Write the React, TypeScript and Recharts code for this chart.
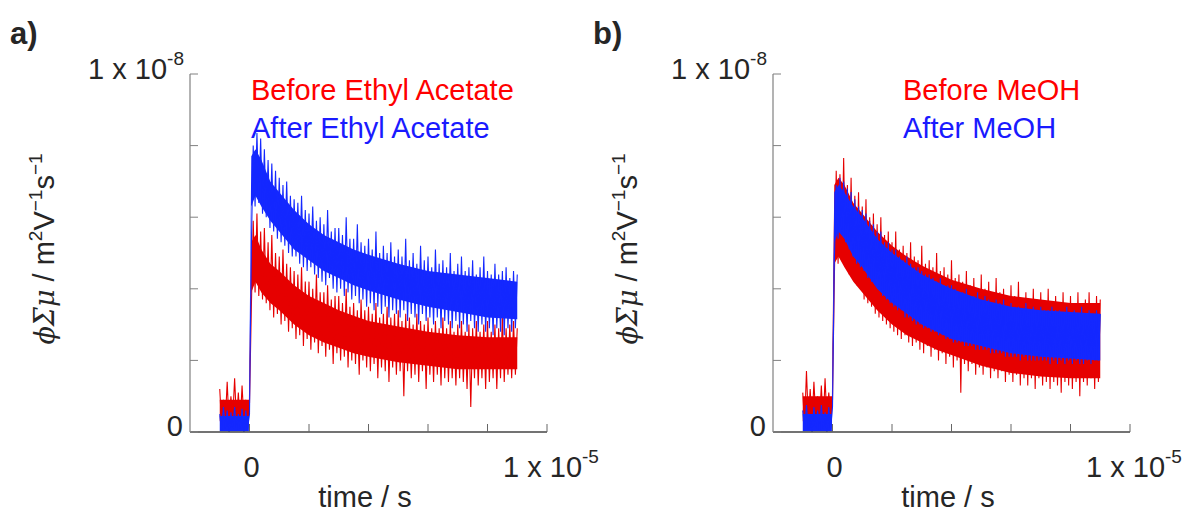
import React from "react";
import { ComposedChart, Area, XAxis, YAxis } from "recharts";

// sampling of the transients, in microseconds
const T0 = -1;
const DT = 0.0625;

const X_TICKS = [0, 2, 4, 6, 8, 10];
const Y_TICKS = [0, 2, 4, 6, 8, 10];

// photoconductance, units of 1e-9 m^2 V^-1 s^-1 (raw noisy traces)
const ethylBefore = [
  1.2, 0.2, 0.9, 0.3, 1.4, 0.2, 1.0, 0.4, 1.5, 0.3, 1.1, 0.2, 1.3, 0.3, 0.9, 0.4,
  0.8, 3.5, 5.9, 3.9, 6.1, 3.8, 5.6, 3.7, 5.7, 3.6,
  5.3, 3.4, 5.5, 3.2, 5.0, 3.3, 4.9, 3.0, 5.1, 3.1,
  4.7, 2.8, 4.6, 2.9, 4.5, 2.6, 4.4, 2.7, 4.6, 2.4,
  4.2, 2.6, 4.2, 2.3, 4.0, 2.5, 4.4, 2.2, 3.9, 2.4,
  3.9, 2.1, 4.1, 2.3, 3.7, 1.9, 3.8, 2.2, 3.8, 2.0,
  3.6, 2.1, 4.0, 1.8, 3.5, 2.0, 3.6, 1.9, 3.4, 1.6,
  3.7, 2.0, 3.4, 1.8, 3.5, 1.7, 3.3, 1.9, 3.6, 1.5,
  3.2, 1.8, 3.3, 1.7, 3.5, 1.4, 3.2, 1.8, 3.3, 1.6,
  3.4, 1.7, 3.1, 1.0, 3.3, 1.7, 3.2, 1.5, 3.0, 1.6,
  3.3, 1.4, 3.1, 1.7, 3.0, 1.2, 3.2, 1.6, 2.9, 1.4,
  3.1, 1.6, 2.9, 1.3, 3.2, 1.5, 2.9, 1.4, 3.1, 1.5,
  2.8, 1.3, 3.0, 1.5, 3.1, 1.4, 2.8, 1.2, 3.0, 0.7,
  2.9, 1.5, 3.1, 1.3, 2.8, 1.5, 3.0, 1.2, 3.1, 1.4,
  2.8, 1.5, 3.0, 1.2, 2.9, 1.5, 3.2, 1.4, 2.9, 1.6,
  3.0, 1.5, 3.1, 1.6, 2.9,
];

const ethylAfter = [
  0.5, 0.05, 0.7, 0.1, 0.6, 0.0, 0.55, 0.1, 0.7, 0.05, 0.5, 0.1, 0.65, 0.0, 0.6, 0.1,
  0.5, 5.2, 8.0, 6.3, 8.35, 6.4, 8.2, 6.1, 7.9, 6.0,
  7.6, 5.7, 7.5, 5.6, 7.3, 5.4, 7.1, 5.3, 6.9, 5.2,
  7.0, 5.0, 6.6, 4.9, 6.5, 4.9, 6.4, 4.7, 6.6, 4.6,
  6.2, 4.5, 6.1, 4.6, 6.3, 4.4, 5.9, 4.3, 6.0, 4.2,
  5.8, 4.1, 6.2, 4.3, 5.6, 4.0, 5.7, 3.9, 5.7, 4.0,
  5.5, 3.8, 6.0, 3.9, 5.4, 3.7, 5.4, 3.8, 5.8, 3.6,
  5.3, 3.7, 5.2, 3.5, 5.4, 3.6, 5.1, 3.4, 5.6, 3.5,
  5.0, 3.3, 5.2, 3.5, 5.0, 3.2, 5.3, 3.4, 4.9, 3.3,
  5.1, 3.2, 4.9, 3.4, 5.4, 3.1, 4.8, 3.3, 5.0, 3.2,
  4.7, 3.0, 5.2, 3.3, 4.8, 3.1, 4.9, 3.2, 4.6, 3.0,
  5.1, 3.2, 4.7, 2.9, 4.8, 3.1, 4.6, 3.0, 5.0, 2.9,
  4.5, 3.1, 4.7, 2.9, 4.9, 3.0, 4.5, 2.8, 4.6, 3.1,
  4.8, 2.9, 4.4, 2.8, 4.6, 3.0, 4.9, 2.8, 4.5, 2.9,
  4.4, 2.7, 4.7, 2.9, 4.4, 2.8, 4.5, 2.7, 4.6, 2.9,
  4.3, 2.8, 4.5, 2.9, 4.4,
];

const meohBefore = [
  1.1, 0.2, 1.7, 0.3, 1.2, 0.2, 1.4, 0.4, 1.0, 0.3, 1.3, 0.2, 1.5, 0.3, 1.1, 0.4,
  0.9, 4.3, 7.3, 4.7, 7.2, 4.8, 7.65, 4.6, 6.9, 4.4,
  7.1, 4.3, 6.6, 4.1, 6.7, 4.0, 6.3, 3.7, 6.5, 3.6,
  6.0, 3.5, 6.1, 3.3, 5.8, 3.2, 6.0, 3.1, 5.5, 3.0,
  5.6, 2.9, 5.3, 2.8, 5.6, 2.7, 5.1, 2.6, 5.2, 2.7,
  5.0, 2.5, 5.3, 2.4, 4.9, 2.5, 4.8, 2.3, 5.2, 2.2,
  4.7, 2.4, 4.8, 2.1, 4.6, 2.3, 5.0, 2.0, 4.5, 2.2,
  4.6, 1.9, 4.4, 2.1, 4.8, 1.8, 4.3, 2.0, 4.4, 1.1,
  4.2, 1.9, 4.5, 1.7, 4.1, 1.9, 4.3, 1.6, 4.0, 1.8,
  4.4, 1.6, 4.0, 1.8, 4.2, 1.5, 3.9, 1.7, 4.3, 1.5,
  3.9, 1.7, 4.0, 1.4, 3.8, 1.6, 4.1, 1.4, 3.8, 1.6,
  4.2, 1.3, 3.7, 1.5, 3.9, 1.3, 3.7, 1.5, 4.0, 1.2,
  3.7, 1.5, 3.9, 1.3, 3.6, 1.4, 4.0, 1.2, 3.6, 1.4,
  3.8, 1.3, 3.6, 1.1, 3.9, 1.4, 3.6, 1.3, 3.8, 1.2,
  3.5, 1.4, 3.9, 1.0, 3.6, 1.4, 3.7, 1.3, 3.9, 1.5,
  3.6, 1.2, 3.8, 1.4, 3.7,
];

const meohAfter = [
  0.6, 0.05, 0.75, 0.1, 0.5, 0.0, 0.7, 0.1, 0.6, 0.05, 0.75, 0.1, 0.55, 0.0, 0.7, 0.1,
  0.7, 4.8, 6.9, 5.4, 7.1, 5.5, 7.0, 5.3, 6.8, 5.1,
  6.7, 4.9, 6.5, 4.7, 6.3, 4.6, 6.2, 4.5, 6.1, 4.3,
  5.9, 4.2, 5.8, 4.1, 5.6, 4.0, 5.6, 3.8, 5.3, 3.7,
  5.3, 3.6, 5.1, 3.5, 5.1, 3.4, 4.9, 3.4, 4.8, 3.2,
  4.9, 3.2, 4.7, 3.1, 4.6, 3.0, 4.6, 3.0, 4.5, 2.9,
  4.4, 2.9, 4.4, 2.8, 4.3, 2.8, 4.2, 2.7, 4.3, 2.7,
  4.1, 2.6, 4.1, 2.6, 4.1, 2.5, 4.0, 2.5, 3.9, 2.5,
  3.9, 2.4, 4.0, 2.4, 3.8, 2.4, 3.8, 2.3, 3.9, 2.3,
  3.7, 2.3, 3.8, 2.3, 3.7, 2.2, 3.6, 2.2, 3.7, 2.2,
  3.6, 2.2, 3.7, 2.1, 3.5, 2.1, 3.6, 2.1, 3.5, 2.1,
  3.5, 2.0, 3.4, 2.1, 3.6, 2.0, 3.4, 2.0, 3.5, 2.0,
  3.4, 2.0, 3.5, 2.0, 3.4, 2.0, 3.4, 1.9, 3.5, 2.0,
  3.4, 1.9, 3.4, 2.0, 3.3, 1.9, 3.5, 2.0, 3.3, 1.9,
  3.4, 2.0, 3.3, 1.9, 3.5, 1.9, 3.3, 2.0, 3.4, 1.9,
  3.3, 2.0, 3.4, 2.0, 3.3,
];

// dense core of each noisy band (where the trace is solid), read at these times (µs)
const CORE_T = [-1, -0.02, 0.06, 0.2, 0.4, 0.7, 1, 1.5, 2, 2.5, 3, 3.5, 4, 5, 6, 7, 8, 9.0];
const ethylBeforeLo = [0.3, 0.3, 3.9, 4.2, 3.9, 3.6, 3.4, 3.0, 2.7, 2.5, 2.35, 2.2, 2.1, 1.95, 1.85, 1.75, 1.75, 1.75];
const ethylBeforeHi = [0.9, 0.9, 5.3, 5.5, 5.1, 4.7, 4.5, 4.1, 3.8, 3.6, 3.4, 3.25, 3.1, 2.95, 2.8, 2.7, 2.65, 2.65];
const ethylAfterLo = [0.02, 0.02, 6.3, 6.6, 6.3, 5.9, 5.6, 5.1, 4.8, 4.5, 4.3, 4.1, 3.95, 3.7, 3.5, 3.35, 3.2, 3.15];
const ethylAfterHi = [0.45, 0.45, 7.7, 7.9, 7.6, 7.0, 6.7, 6.2, 5.8, 5.5, 5.3, 5.1, 4.95, 4.7, 4.5, 4.4, 4.3, 4.2];
const meohBeforeLo = [0.3, 0.3, 4.7, 4.9, 4.6, 4.2, 3.9, 3.4, 3.0, 2.7, 2.5, 2.3, 2.15, 1.85, 1.65, 1.55, 1.5, 1.5];
const meohBeforeHi = [1.0, 1.0, 6.9, 7.1, 6.9, 6.4, 6.1, 5.6, 5.2, 4.9, 4.65, 4.45, 4.25, 4.0, 3.8, 3.7, 3.6, 3.6];
const meohAfterLo = [0.02, 0.02, 5.3, 5.6, 5.4, 4.9, 4.6, 4.0, 3.6, 3.3, 3.0, 2.8, 2.6, 2.4, 2.2, 2.1, 2.05, 2.0];
const meohAfterHi = [0.5, 0.5, 6.7, 6.9, 6.7, 6.3, 6.0, 5.4, 5.0, 4.7, 4.4, 4.2, 4.0, 3.7, 3.5, 3.4, 3.35, 3.3];

const FONT = "'Liberation Sans', Arial, Helvetica, sans-serif";
const INK = "#262626";
const RED = "#e60000";
const BLUE = "#1428ff";

function buildRows(before: number[], after: number[]) {
  return before.map((v, i) => ({ t: T0 + i * DT, before: v, after: after[i] }));
}

function buildCore(lo: number[], hi: number[]) {
  return CORE_T.map((t, i) => ({ t, band: [lo[i], hi[i]] }));
}

function XTick({ x, y, payload }: any) {
  return (
    <g>
      <line x1={x} x2={x} y1={y} y2={y - 8} stroke="#666" strokeWidth={1} />
      {payload.value === 0 && (
        <text x={x + 2} y={y + 45} textAnchor="middle" fontSize={29} fontFamily={FONT} fill={INK}>
          0
        </text>
      )}
      {payload.value === 10 && (
        <text x={x + 4} y={y + 45} textAnchor="middle" fontSize={29} fontFamily={FONT} fill={INK}>
          1 x 10<tspan dy={-14} fontSize={19}>-5</tspan>
        </text>
      )}
    </g>
  );
}

function YTick({ x, y, payload }: any) {
  return (
    <g>
      <line x1={x} x2={x + 8} y1={y} y2={y} stroke="#808080" strokeWidth={1} />
      {payload.value === 0 && (
        <text x={x - 7} y={y + 4} textAnchor="end" fontSize={29} fontFamily={FONT} fill={INK}>
          0
        </text>
      )}
      {payload.value === 10 && (
        <text x={x - 6} y={y + 5} textAnchor="end" fontSize={29} fontFamily={FONT} fill={INK}>
          1 x 10<tspan dy={-14} fontSize={19}>-8</tspan>
        </text>
      )}
    </g>
  );
}

// a trace is drawn as a solid core band plus the raw zigzag on top of it
function Trace({ core, dataKey, color }: any) {
  return [
    <Area
      key={dataKey + "-core"}
      data={core}
      dataKey="band"
      type="linear"
      stroke="none"
      fill={color}
      fillOpacity={1}
      isAnimationActive={false}
      activeDot={false}
    />,
    <Area
      key={dataKey + "-raw"}
      dataKey={dataKey}
      type="linear"
      stroke={color}
      strokeWidth={1.1}
      fill="none"
      dot={false}
      activeDot={false}
      isAnimationActive={false}
    />,
  ];
}

function Panel({ left, letter, rows, coreBefore, coreAfter, legend, legendX }: any) {
  return (
    <div style={{ position: "absolute", left, top: 0, width: 600, height: 515 }}>
      <ComposedChart width={600} height={515} data={rows} margin={{ top: 74, right: 53, bottom: 43, left: 130 }}>
        <XAxis
          type="number"
          dataKey="t"
          domain={[-2, 10]}
          ticks={X_TICKS}
          interval={0}
          allowDataOverflow
          height={40}
          tickSize={0}
          tickMargin={0}
          tickLine={false}
          axisLine={{ stroke: "#444", strokeWidth: 1.3 }}
          tick={(p: any) => <XTick {...p} />}
        />
        <YAxis
          type="number"
          domain={[0, 10]}
          ticks={Y_TICKS}
          interval={0}
          allowDataOverflow
          width={60}
          tickSize={0}
          tickMargin={0}
          tickLine={false}
          axisLine={{ stroke: "#8a8a8a", strokeWidth: 1.3 }}
          tick={(p: any) => <YTick {...p} />}
        />
        {Trace({ core: coreBefore, dataKey: "before", color: RED })}
        {Trace({ core: coreAfter, dataKey: "after", color: BLUE })}
      </ComposedChart>
      <svg
        width={600}
        height={515}
        style={{ position: "absolute", left: 0, top: 0, overflow: "visible", pointerEvents: "none" }}
      >
        <text x={10} y={44} fontSize={31} fontWeight="bold" fontFamily={FONT} fill={INK}>
          {letter}
        </text>
        <text x={legendX} y={100} fontSize={29} fontFamily={FONT} fill="#ff0000">
          {legend[0]}
        </text>
        <text x={legendX} y={138} fontSize={29} fontFamily={FONT} fill="#1a1aff">
          {legend[1]}
        </text>
        <text x={365} y={507} textAnchor="middle" fontSize={29} fontFamily={FONT} fill={INK}>
          time / s
        </text>
        <text
          x={54}
          y={249}
          transform="rotate(-90, 54, 249)"
          textAnchor="middle"
          fontSize={29}
          fontFamily={FONT}
          fill={INK}
        >
          <tspan fontStyle="italic" fontFamily="'DejaVu Serif', 'Liberation Serif', serif" fontSize={27}>
            ϕΣμ
          </tspan>
          <tspan> / m</tspan>
          <tspan dy={-12} fontSize={19}>2</tspan>
          <tspan dy={12}>V</tspan>
          <tspan dy={-12} fontSize={19}>−1</tspan>
          <tspan dy={12}>s</tspan>
          <tspan dy={-12} fontSize={19}>−1</tspan>
        </text>
      </svg>
    </div>
  );
}

export default function App() {
  const rowsA = buildRows(ethylBefore, ethylAfter);
  const rowsB = buildRows(meohBefore, meohAfter);
  return (
    <div style={{ position: "absolute", left: 0, top: 0, width: 1185, height: 515, background: "#fff" }}>
      <style>{`.recharts-surface{overflow:visible}`}</style>
      <Panel
        left={0}
        letter="a)"
        rows={rowsA}
        coreBefore={buildCore(ethylBeforeLo, ethylBeforeHi)}
        coreAfter={buildCore(ethylAfterLo, ethylAfterHi)}
        legend={["Before Ethyl Acetate", "After Ethyl Acetate"]}
        legendX={251}
      />
      <Panel
        left={583}
        letter="b)"
        rows={rowsB}
        coreBefore={buildCore(meohBeforeLo, meohBeforeHi)}
        coreAfter={buildCore(meohAfterLo, meohAfterHi)}
        legend={["Before MeOH", "After MeOH"]}
        legendX={320}
      />
    </div>
  );
}
